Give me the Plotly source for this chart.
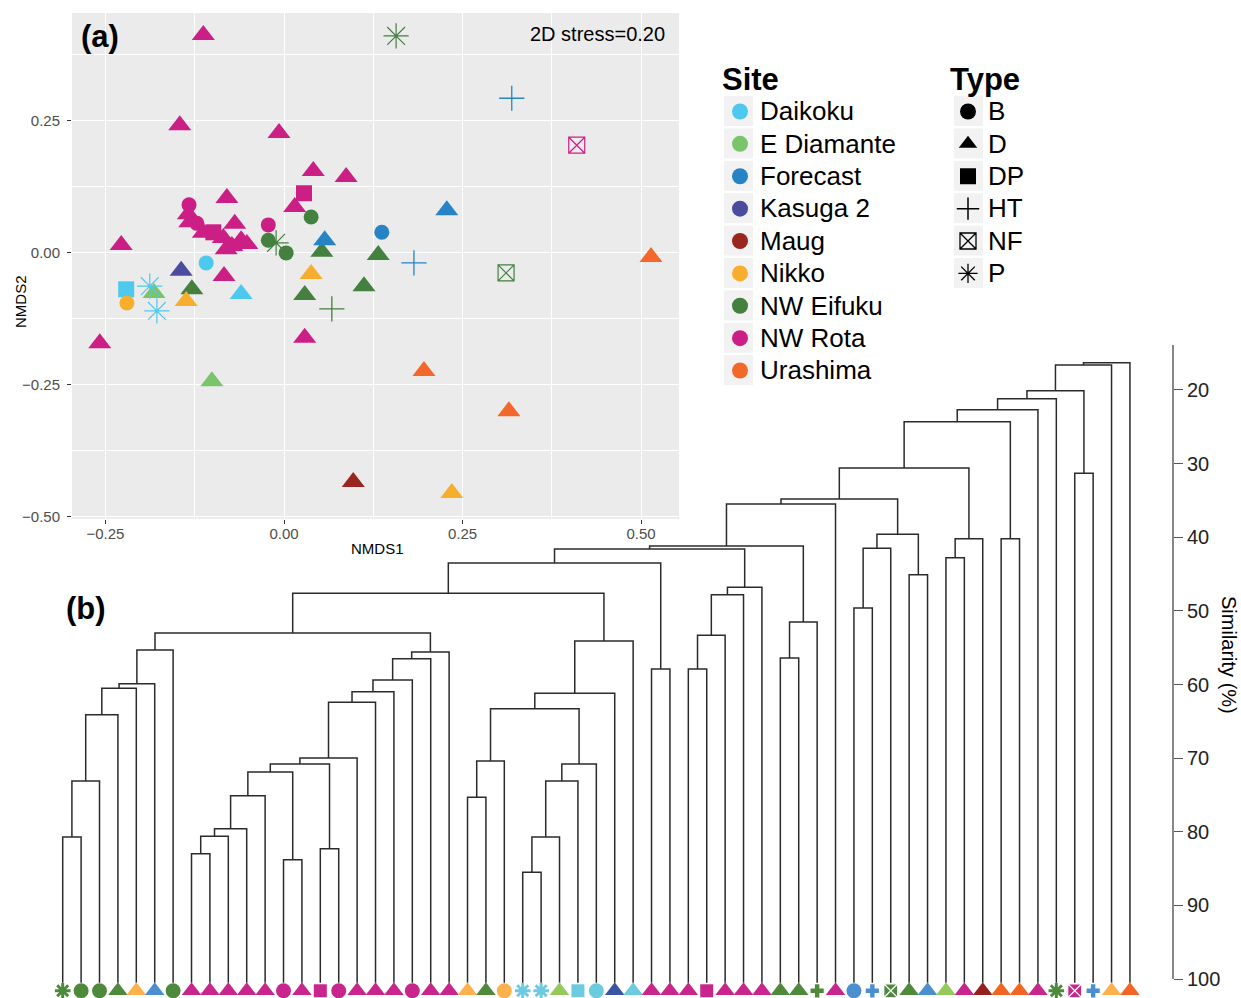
import plotly.graph_objects as go

# ---------------- DATA ----------------
sites = ["Daikoku", "E Diamante", "Forecast", "Kasuga 2", "Maug",
         "Nikko", "NW Eifuku", "NW Rota", "Urashima"]
types = ["B", "D", "DP", "HT", "NF", "P"]

# Panel (a): NMDS ordination (site, type, NMDS1, NMDS2)
nmds_site = (["NW Rota"] * 20 + ["NW Rota"] * 3 + ["NW Rota"] * 2 + ["NW Rota"]
             + ["NW Eifuku"] * 2 + ["NW Eifuku"] * 3 + ["NW Eifuku"] * 5 + ["NW Eifuku"] + ["NW Eifuku"]
             + ["Nikko"] * 3 + ["Nikko"]
             + ["Forecast"] * 2 + ["Forecast"] + ["Forecast"] * 2
             + ["Daikoku"] * 2 + ["Daikoku"] + ["Daikoku"] + ["Daikoku"]
             + ["E Diamante"] * 2 + ["Kasuga 2"] + ["Maug"] + ["Urashima"] * 3)
nmds_type = (["D"] * 20 + ["B"] * 3 + ["DP"] * 2 + ["NF"]
             + ["P"] * 2 + ["B"] * 3 + ["D"] * 5 + ["HT"] + ["NF"]
             + ["D"] * 3 + ["B"]
             + ["D"] * 2 + ["B"] + ["HT"] * 2
             + ["P"] * 2 + ["DP"] + ["B"] + ["D"]
             + ["D"] * 2 + ["D"] + ["D"] + ["D"] * 3)
nmds1 = [-0.113, -0.146, -0.007, 0.041, 0.087, -0.080, 0.015, -0.228, -0.258, 0.029,
         -0.084, -0.134, -0.132, -0.113, -0.085, -0.069, -0.073, -0.060, -0.052, -0.081,
         -0.133, -0.122, -0.022,
         0.028, -0.099,
         0.410,
         0.157, -0.011,
         0.038, -0.022, 0.003,
         0.053, 0.132, 0.029, 0.112, -0.129,
         0.067,
         0.311,
         0.038, -0.137, 0.235,
         -0.220,
         0.228, 0.057,
         0.137,
         0.319, 0.182,
         -0.188, -0.178,
         -0.221,
         -0.109,
         -0.060,
         -0.182, -0.101,
         -0.144,
         0.097,
         0.514, 0.196, 0.315]
nmds2 = [0.413, 0.242, 0.227, 0.155, 0.144, 0.104, 0.087, 0.015, -0.171, -0.161,
         -0.044, 0.073, 0.058, 0.038, 0.028, 0.055, 0.013, 0.024, 0.017, 0.007,
         0.091, 0.056, 0.053,
         0.113, 0.039,
         0.204,
         0.411, 0.019,
         0.068, 0.024, 0.000,
         0.002, -0.004, -0.080, -0.063, -0.069,
         -0.106,
         -0.038,
         -0.040, -0.091, -0.455,
         -0.095,
         0.081, 0.024,
         0.039,
         0.293, -0.019,
         -0.063, -0.110,
         -0.069,
         -0.019,
         -0.078,
         -0.076, -0.243,
         -0.034,
         -0.434,
         -0.008, -0.224, -0.300]

# Panel (b): dendrogram leaves in display order
leaf_site = ["NW Eifuku", "NW Eifuku", "NW Eifuku", "NW Eifuku", "Nikko", "Forecast", "NW Eifuku",
             "NW Rota", "NW Rota", "NW Rota", "NW Rota", "NW Rota", "NW Rota", "NW Rota", "NW Rota",
             "NW Rota", "NW Rota", "NW Rota", "NW Rota", "NW Rota", "NW Rota", "NW Rota",
             "Nikko", "NW Eifuku", "Nikko", "Daikoku", "Daikoku", "E Diamante", "Daikoku", "Daikoku",
             "Kasuga 2", "Daikoku", "NW Rota", "NW Rota", "NW Rota", "NW Rota", "NW Rota", "NW Rota",
             "NW Rota", "NW Eifuku", "NW Eifuku", "NW Eifuku", "NW Rota", "Forecast", "Forecast",
             "NW Eifuku", "NW Eifuku", "Forecast", "E Diamante", "NW Rota", "Maug", "Urashima",
             "Urashima", "NW Rota", "NW Eifuku", "NW Rota", "Forecast", "Nikko", "Urashima"]
leaf_type = ["P", "B", "B", "D", "D", "D", "B",
             "D", "D", "D", "D", "D", "B", "D", "DP",
             "B", "D", "D", "D", "B", "D", "D",
             "D", "D", "B", "P", "P", "D", "DP", "B",
             "D", "D", "D", "D", "D", "DP", "D", "D",
             "D", "D", "D", "HT", "D", "B", "HT",
             "NF", "D", "D", "D", "D", "D", "D",
             "D", "D", "P", "NF", "HT", "D", "D"]
# merges (R hclust style: -k = leaf k, +m = merge row m) and similarity (%)
merge_left = [-1, 1, 2, 3, 4, 5, -8, 7, 8, 9, -13, 10, -15, 12, 14, 15, 16, 17, 18, 19,
              6, -23, 22, -26, 24, 25, 26, 23, 28, 29, 21, -33, 31, -35, 34, 35, 36, 33,
              -40, 39, 38, 41, -44, 43, -47, 44, 42, -49, 48, 47, -52, 50, 52, 53, -56,
              54, 56, 57]
merge_right = [-2, -3, -4, -5, -6, -7, -9, -10, -11, -12, -14, 11, -16, 13, -17, -18, -19,
               -20, -21, -22, 20, -24, -25, -27, -28, -29, -30, 27, -31, -32, 30, -34, 32,
               -36, -37, -38, -39, 37, -41, -42, 40, -43, -45, -46, -48, 45, 46, -50, -51,
               49, -53, 51, -54, -55, -57, 55, -58, -59]
merge_sim = [80.7, 73.1, 64.1, 60.5, 59.9, 55.3, 83.0, 80.6, 79.6, 75.1, 83.8, 71.9, 82.3,
             70.8, 70.0, 62.4, 61.0, 59.4, 56.5, 55.6, 53.0, 75.3, 70.4, 85.5, 80.7, 73.1,
             70.8, 63.3, 61.2, 54.1, 47.6, 57.9, 43.5, 57.9, 53.3, 47.8, 46.8, 41.6, 56.4,
             51.5, 41.2, 35.5, 49.6, 41.5, 45.1, 39.6, 34.8, 42.8, 40.2, 30.6, 40.2, 24.3,
             22.7, 21.2, 31.3, 20.1, 16.6, 16.3]
sim_ticks = [20, 30, 40, 50, 60, 70, 80, 90, 100]

# ---------------- STYLE ----------------
FONT = "Liberation Sans, Arial, Helvetica, sans-serif"
site_colors = {"Daikoku": "#4EC9EE", "E Diamante": "#7CC46B", "Forecast": "#2684C6",
               "Kasuga 2": "#4B4C9D", "Maug": "#99271F", "Nikko": "#F7AE2C",
               "NW Eifuku": "#44803F", "NW Rota": "#CC1F85", "Urashima": "#F3672A"}
leaf_colors = {"Daikoku": "#6DCBE0", "E Diamante": "#96C95B", "Forecast": "#4A8FD0",
               "Kasuga 2": "#3B55A5", "Maug": "#94201F", "Nikko": "#FDB04B",
               "NW Eifuku": "#4F8A3C", "NW Rota": "#C8268D", "Urashima": "#F26522"}
scatter_style = {"B": ("circle", 15, 0), "D": ("triangle-up", 20, 0),
                 "DP": ("square", 16, 0), "HT": ("cross-thin-open", 18, 1.3),
                 "NF": ("square-x-open", 16, 1.2), "P": ("asterisk-open", 21, 1.2)}
legend_style = {"B": ("circle", 16, 0), "D": ("triangle-up", 16, 0),
                "DP": ("square", 16, 0), "HT": ("cross-thin-open", 16, 1.5),
                "NF": ("square-x-open", 16, 1.3), "P": ("asterisk-open", 16, 1.3)}
leaf_style = {"B": ("circle", 15, 0, None), "D": ("triangle-up", 17, 0, None),
              "DP": ("square", 13, 0, None), "HT": ("cross", 11, 0, None),
              "NF": ("square-x", 14, 1.2, "white"), "P": ("asterisk-open", 13, 3, None)}
LEAF_BASE = 100.5
LEAF_SYM_Y = 101.6

W, H = 1241, 998
def px(x):
    return x / W
def py(y):
    return 1 - y / H

fig = go.Figure()

# ---- panel (a) scatter ----
for t in ["D", "DP", "B", "HT", "NF", "P"]:
    idx = [i for i, tt in enumerate(nmds_type) if tt == t]
    cols = [site_colors[nmds_site[i]] for i in idx]
    sym, size, lw = scatter_style[t]
    fig.add_trace(go.Scatter(
        x=[nmds1[i] for i in idx], y=[nmds2[i] for i in idx], mode="markers",
        xaxis="x", yaxis="y", showlegend=False, hoverinfo="skip",
        marker=dict(symbol=sym, size=size, color=cols,
                    line=dict(width=lw, color=cols))))

# ---- legends (native) ----
def big(s):
    return '<span style="font-size:26px">' + s + '</span>'

for s in sites:
    fig.add_trace(go.Scatter(x=[None], y=[None], mode="markers", name=big(s),
                             legend="legend", xaxis="x", yaxis="y",
                             marker=dict(symbol="circle", size=16, color=site_colors[s])))
for t in types:
    sym, size, lw = legend_style[t]
    fig.add_trace(go.Scatter(x=[None], y=[None], mode="markers", name=big(t),
                             legend="legend2", xaxis="x", yaxis="y",
                             marker=dict(symbol=sym, size=size, color="black",
                                         line=dict(width=lw, color="black"))))

# legend key backgrounds (ggplot-style grey key boxes)
KEY_TOP, KEY_STEP, KEY_H = 96, 32.4, 30
key_boxes = []
for col_x0, n in ((724, len(sites)), (954, len(types))):
    for k in range(n):
        y0 = KEY_TOP + k * KEY_STEP
        key_boxes.append(dict(type="rect", xref="paper", yref="paper",
                              x0=px(col_x0), x1=px(col_x0 + 29), y0=py(y0 + KEY_H), y1=py(y0),
                              fillcolor="#F2F2F2", line=dict(width=0), layer="below"))

# ---- panel (b) dendrogram ----
node_x = []
def child(c):
    if c < 0:
        return float(-c), LEAF_BASE
    return node_x[c - 1], merge_sim[c - 1]

seg_x, seg_y = [], []
for a, b, h in zip(merge_left, merge_right, merge_sim):
    xa, ya = child(a)
    xb, yb = child(b)
    node_x.append((xa + xb) / 2.0)
    seg_x += [xa, xa, xb, xb, None]
    seg_y += [ya, h, h, yb, None]
fig.add_trace(go.Scatter(x=seg_x, y=seg_y, mode="lines", xaxis="x2", yaxis="y2",
                         showlegend=False, hoverinfo="skip",
                         line=dict(color="#2b2b2b", width=1.5)))

for t in types:
    idx = [i for i, tt in enumerate(leaf_type) if tt == t]
    cols = [leaf_colors[leaf_site[i]] for i in idx]
    sym, size, lw, lc = leaf_style[t]
    fig.add_trace(go.Scatter(
        x=[i + 1 for i in idx], y=[LEAF_SYM_Y] * len(idx), mode="markers",
        xaxis="x2", yaxis="y2", showlegend=False, hoverinfo="skip", cliponaxis=False,
        marker=dict(symbol=sym, size=size, color=cols,
                    line=dict(width=lw, color=(lc if lc else cols)))))

fig.update_layout(
    width=W, height=H, margin=dict(l=0, r=0, t=0, b=0, autoexpand=False),
    paper_bgcolor="white", plot_bgcolor="rgba(0,0,0,0)",
    font=dict(family=FONT, color="black"),
    xaxis=dict(domain=[px(72), px(679)], range=[-0.2969, 0.5532], anchor="y", automargin=False,
               tickvals=[-0.25, 0, 0.25, 0.5], ticktext=["\u22120.25", "0.00", "0.25", "0.50"],
               ticks="outside", ticklen=4, tickwidth=1.1, tickcolor="#333333",
               tickfont=dict(size=15, color="#4D4D4D"), ticklabelstandoff=-3,
               showgrid=True, gridcolor="white", gridwidth=1.3, zeroline=False, showline=False,
               minor=dict(dtick=0.125, tick0=0, showgrid=True, gridcolor="white", gridwidth=0.8, ticks="")),
    yaxis=dict(domain=[py(519), py(13)], range=[-0.5042, 0.4545], anchor="x", automargin=False,
               tickvals=[-0.5, -0.25, 0, 0.25], ticktext=["\u22120.50", "\u22120.25", "0.00", "0.25"],
               ticks="outside", ticklen=4, tickwidth=1.1, tickcolor="#333333",
               tickfont=dict(size=15, color="#4D4D4D"), ticklabelstandoff=4,
               showgrid=True, gridcolor="white", gridwidth=1.3, zeroline=False, showline=False,
               minor=dict(dtick=0.125, tick0=0, showgrid=True, gridcolor="white", gridwidth=0.8, ticks="")),
    xaxis2=dict(domain=[0, px(1173)], range=[-2.408, 61.34], anchor="y2", visible=False,
                automargin=False),
    yaxis2=dict(domain=[0, py(345)], range=[102.58, 13.89], anchor="x2", side="right",
                automargin=False,
                tickvals=sim_ticks, ticks="outside", ticklen=9, tickwidth=1.3, tickcolor="#555555",
                tickfont=dict(size=20, color="#222222"), showgrid=False, zeroline=False,
                showline=False),
    legend=dict(title=dict(text="<b>Site</b>", font=dict(size=31)), font=dict(size=22.6),
                x=px(720), y=py(50), xanchor="left", yanchor="top",
                bgcolor="rgba(0,0,0,0)", itemsizing="trace", tracegroupgap=0),
    legend2=dict(title=dict(text="<b>Type</b>", font=dict(size=31)), font=dict(size=22.6),
                 x=px(948), y=py(50), xanchor="left", yanchor="top",
                 bgcolor="rgba(0,0,0,0)", itemsizing="trace", tracegroupgap=0),
    shapes=[
        dict(type="rect", xref="x domain", yref="y domain", x0=0, x1=1, y0=0, y1=1,
             fillcolor="#EBEBEB", line=dict(width=0), layer="below"),
        dict(type="line", xref="x2 domain", yref="y2", x0=1, x1=1, y0=13.89, y1=100,
             line=dict(color="#555555", width=1.4)),
    ] + key_boxes,
    annotations=[
        dict(text="<b>(a)</b>", x=px(79), y=py(36), xref="paper", yref="paper",
             xanchor="left", yanchor="middle", showarrow=False, font=dict(size=31)),
        dict(text="2D stress=0.20", x=px(667), y=py(34), xref="paper", yref="paper",
             xanchor="right", yanchor="middle", showarrow=False, font=dict(size=20)),
        dict(text="NMDS1", x=px(377), y=py(548), xref="paper", yref="paper",
             xanchor="center", yanchor="middle", showarrow=False, font=dict(size=15)),
        dict(text="NMDS2", x=px(21), y=py(302), xref="paper", yref="paper", textangle=-90,
             xanchor="center", yanchor="middle", showarrow=False, font=dict(size=15)),
        dict(text="<b>(b)</b>", x=px(64), y=py(608), xref="paper", yref="paper",
             xanchor="left", yanchor="middle", showarrow=False, font=dict(size=31)),
        dict(text="Similarity (%)", x=px(1229), y=py(655), xref="paper", yref="paper",
             textangle=90, xanchor="center", yanchor="middle", showarrow=False,
             font=dict(size=20)),
    ],
)

fig.write_html("out.html")
